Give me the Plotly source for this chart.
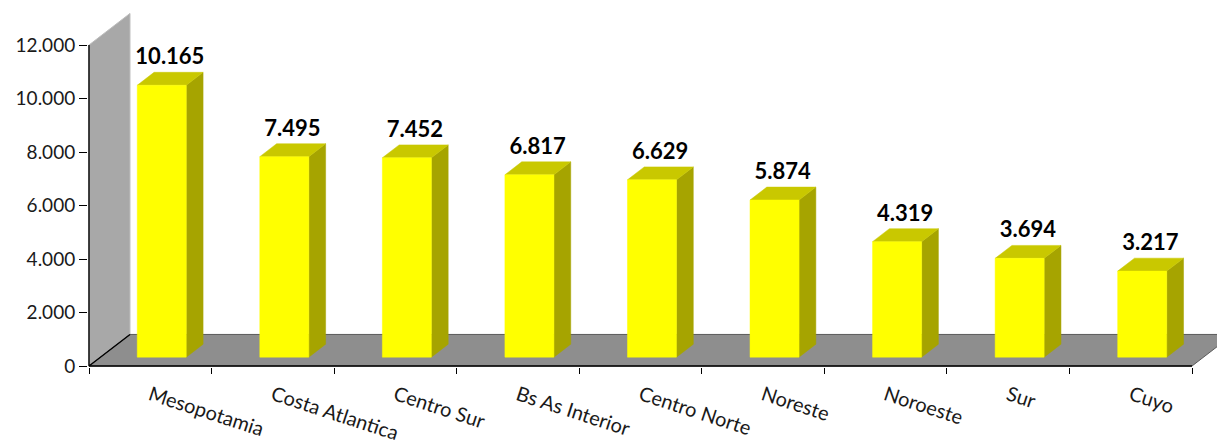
import plotly.graph_objects as go

categories = ["Mesopotamia", "Costa Atlantica", "Centro Sur", "Bs As Interior",
              "Centro Norte", "Noreste", "Noroeste", "Sur", "Cuyo"]
values = [10165, 7495, 7452, 6817, 6629, 5874, 4319, 3694, 3217]
y_ticks = [0, 2000, 4000, 6000, 8000, 10000, 12000]

# fake 3D depth, in axis units
DX, DY = 0.3345, 1180
F0, F1 = 0.28, 0.69      # bar front / back as fraction of floor depth
HALF = 0.2               # half bar width

n = len(categories)
x_lo, x_hi = -0.5, n - 0.5


def poly(pts, xs, ys):
    for px, py in pts + [pts[0]]:
        xs.append(px)
        ys.append(py)
    xs.append(None)
    ys.append(None)


front_x, front_y, side_x, side_y, top_x, top_y = [], [], [], [], [], []
ddx, ddy = (F1 - F0) * DX, (F1 - F0) * DY
for i, v in enumerate(values):
    x0 = i - HALF + F0 * DX
    x1 = i + HALF + F0 * DX
    yb = F0 * DY
    yt = v + F0 * DY
    poly([(x1, yb), (x1 + ddx, yb + ddy), (x1 + ddx, yt + ddy), (x1, yt)], side_x, side_y)
    poly([(x0, yt), (x1, yt), (x1 + ddx, yt + ddy), (x0 + ddx, yt + ddy)], top_x, top_y)
    poly([(x0, yb), (x1, yb), (x1, yt), (x0, yt)], front_x, front_y)

fig = go.Figure()

# back wall
wall_x, wall_y = [], []
poly([(x_lo, 0), (x_lo, y_ticks[-1]), (x_lo + DX, y_ticks[-1] + DY), (x_lo + DX, DY)], wall_x, wall_y)
fig.add_trace(go.Scatter(x=wall_x, y=wall_y, fill="toself", fillcolor="#a8a8a8",
                         line=dict(color="#bdbdbd", width=1), mode="lines", hoverinfo="skip"))

# floor
floor_x, floor_y = [], []
poly([(x_lo, 0), (x_hi, 0), (x_hi + DX, DY), (x_lo + DX, DY)], floor_x, floor_y)
fig.add_trace(go.Scatter(x=floor_x, y=floor_y, fill="toself", fillcolor="#8e8e8e",
                         line=dict(color="#5a5a5a", width=1), mode="lines", hoverinfo="skip"))

# axis lines
fig.add_trace(go.Scatter(x=[x_lo + DX, x_lo, x_lo, None, x_lo, x_hi],
                         y=[DY, 0, y_ticks[-1], None, 0, 0],
                         mode="lines", line=dict(color="black", width=1.4), hoverinfo="skip"))

# bars
fig.add_trace(go.Scatter(x=side_x, y=side_y, fill="toself", fillcolor="#a6a400",
                         line=dict(color="#a6a400", width=0.5), mode="lines", hoverinfo="skip"))
fig.add_trace(go.Scatter(x=top_x, y=top_y, fill="toself", fillcolor="#c9c800",
                         line=dict(color="#c9c800", width=0.5), mode="lines", hoverinfo="skip"))
fig.add_trace(go.Scatter(x=front_x, y=front_y, fill="toself", fillcolor="#ffff00",
                         line=dict(color="#ffff00", width=0.5), mode="lines", hoverinfo="skip"))

# value labels
fig.add_trace(go.Scatter(
    x=[i + 0.16 for i in range(n)],
    y=[v + F0 * DY + 990 for v in values],
    text=[f"{v:,}".replace(",", ".") for v in values],
    mode="text", textposition="middle center",
    textfont=dict(family="Lato", size=22, color="black", weight="bold"),
    hoverinfo="skip", cliponaxis=False,
))

# page has an 8px body margin, so margins are shifted by -8
px_x = 122.56   # pixels per category
px_y = 0.02675  # pixels per unit
fig.update_layout(
    width=1225, height=441,
    margin=dict(l=80, r=0, t=2, b=82),
    paper_bgcolor="white", plot_bgcolor="white",
    showlegend=False,
    separators=",.",
    font=dict(family="Lato", size=18, color="#1a1a1a"),
)
fig.update_xaxes(
    range=[x_lo - 1 / px_x, x_hi + 41 / px_x],
    tickmode="array", tickvals=list(range(n)), ticktext=categories,
    tickangle=18, ticks="", showgrid=False, zeroline=False, showline=False,
    tickfont=dict(size=20, color="#1a1a1a"),
    ticklabelstandoff=12, automargin=False,
    minor=dict(tickmode="array", tickvals=[i - 0.5 for i in range(n + 1)],
               ticks="outside", ticklen=6, tickcolor="black", tickwidth=1.3),
)
fig.update_yaxes(
    range=[-1 / px_y, 356 / px_y],
    tickmode="array", tickvals=y_ticks, tickformat=",d",
    ticks="outside", ticklen=8, tickcolor="black", tickwidth=1.3,
    showgrid=False, zeroline=False, showline=False, automargin=False,
    tickfont=dict(size=19, color="#1a1a1a"),
)

fig.write_html("out.html")
